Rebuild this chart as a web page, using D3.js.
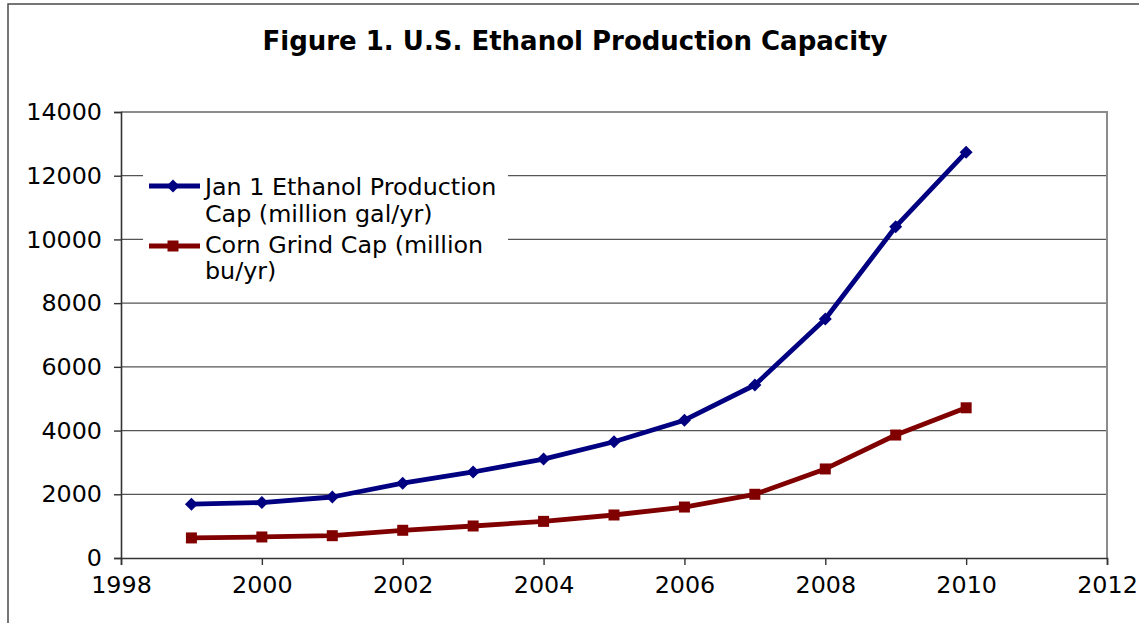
<!DOCTYPE html>
<html>
<head>
<meta charset="utf-8">
<script src="https://cdn.jsdelivr.net/npm/d3@7"></script>
<style>
  html, body { margin: 0; padding: 0; background: #fff; }
  svg { display: block; font-family: Verdana, "DejaVu Sans", sans-serif; }
</style>
</head>
<body>
<svg id="chart" width="1139" height="623"></svg>
<script>
// Chart data
const years = [1999, 2000, 2001, 2002, 2003, 2004, 2005, 2006, 2007, 2008, 2009, 2010];
const ethanolCap = [1690, 1740, 1915, 2350, 2700, 3105, 3650, 4325, 5430, 7500, 10400, 12740];
const cornGrindCap = [630, 660, 700, 870, 1005, 1150, 1350, 1600, 2000, 2795, 3860, 4715];
const xTicks = [1998, 2000, 2002, 2004, 2006, 2008, 2010, 2012];
const yTicks = [0, 2000, 4000, 6000, 8000, 10000, 12000, 14000];
const titleText = "Figure 1. U.S. Ethanol Production Capacity";
const seriesNames = [
  ["Jan 1 Ethanol Production", "Cap (million gal/yr)"],
  ["Corn Grind Cap (million", "bu/yr)"]
];

const svg = d3.select("#chart");
const W = 1139, H = 623;
const plot = { left: 121, right: 1107, top: 112, bottom: 558 };
const labelSize = 23.8;

const x = d3.scaleLinear().domain([1998, 2012]).range([plot.left, plot.right]);
const y = d3.scaleLinear().domain([0, 14000]).range([plot.bottom, plot.top]);

// outer chart frame
svg.append("rect")
  .attr("x", 8).attr("y", 4).attr("width", W + 20).attr("height", H + 20)
  .attr("fill", "#fff").attr("stroke", "#4a4a4a").attr("stroke-width", 1.5);

// title
svg.append("text")
  .attr("x", 575).attr("y", 50)
  .attr("text-anchor", "middle")
  .attr("font-weight", "bold")
  .attr("font-size", 26)
  .attr("fill", "#000")
  .text(titleText);

// gridlines
svg.append("g")
  .selectAll("line")
  .data(yTicks.filter(d => d > 0 && d < 14000))
  .join("line")
  .attr("x1", plot.left).attr("x2", plot.right)
  .attr("y1", d => y(d)).attr("y2", d => y(d))
  .attr("stroke", "#555").attr("stroke-width", 1.2);

// plot border top & right
svg.append("path")
  .attr("d", `M${plot.left},${plot.top}H${plot.right}V${plot.bottom}`)
  .attr("fill", "none").attr("stroke", "#8c8c8c").attr("stroke-width", 2);

// axes
const yAxis = svg.append("g")
  .attr("transform", `translate(${plot.left},0)`)
  .call(d3.axisLeft(y).tickValues(yTicks).tickSize(7).tickPadding(12).tickFormat(d3.format("d")));
const xAxis = svg.append("g")
  .attr("transform", `translate(0,${plot.bottom})`)
  .call(d3.axisBottom(x).tickValues(xTicks).tickSize(7).tickPadding(11).tickFormat(d3.format("d")));

[yAxis, xAxis].forEach(a => {
  a.select(".domain").attr("stroke", "#333").attr("stroke-width", 1.6);
  a.selectAll(".tick line").attr("stroke", "#333").attr("stroke-width", 1.4);
  a.selectAll(".tick text")
    .attr("fill", "#000")
    .attr("font-size", labelSize)
    .attr("font-family", "Verdana, 'DejaVu Sans', sans-serif");
});
xAxis.selectAll(".tick text").attr("dy", "0.71em");

// series
const series = [
  { values: ethanolCap, color: "#000080", marker: "diamond" },
  { values: cornGrindCap, color: "#800000", marker: "square" }
];

const line = d3.line().x(d => x(d[0])).y(d => y(d[1]));

function drawMarker(g, kind, color) {
  if (kind === "diamond") {
    g.append("path").attr("d", "M0,-6.5L6.5,0L0,6.5L-6.5,0Z").attr("fill", color);
  } else {
    g.append("rect").attr("x", -5.5).attr("y", -5.5).attr("width", 11).attr("height", 11).attr("fill", color);
  }
}

series.forEach(s => {
  const pts = years.map((yr, i) => [yr, s.values[i]]);
  svg.append("path")
    .datum(pts)
    .attr("d", line)
    .attr("fill", "none")
    .attr("stroke", s.color)
    .attr("stroke-width", 4.8)
    .attr("stroke-linejoin", "round");
  svg.append("g").selectAll("g")
    .data(pts)
    .join("g")
    .attr("transform", d => `translate(${x(d[0])},${y(d[1])})`)
    .each(function () { drawMarker(d3.select(this), s.marker, s.color); });
});

// legend
const legend = svg.append("g");
legend.append("rect")
  .attr("x", 143).attr("y", 168).attr("width", 365).attr("height", 118)
  .attr("fill", "#fff");
const legendRows = [
  { sym: 186, base: [195, 222] },
  { sym: 246, base: [253, 279] }
];
series.forEach((s, i) => {
  const r = legendRows[i];
  legend.append("line")
    .attr("x1", 149).attr("x2", 200)
    .attr("y1", r.sym).attr("y2", r.sym)
    .attr("stroke", s.color).attr("stroke-width", 4.8);
  drawMarker(legend.append("g").attr("transform", `translate(173,${r.sym})`), s.marker, s.color);
  seriesNames[i].forEach((t, j) => {
    legend.append("text")
      .attr("x", 205).attr("y", r.base[j])
      .attr("font-size", labelSize)
      .attr("fill", "#000")
      .text(t);
  });
});
</script>
</body>
</html>
